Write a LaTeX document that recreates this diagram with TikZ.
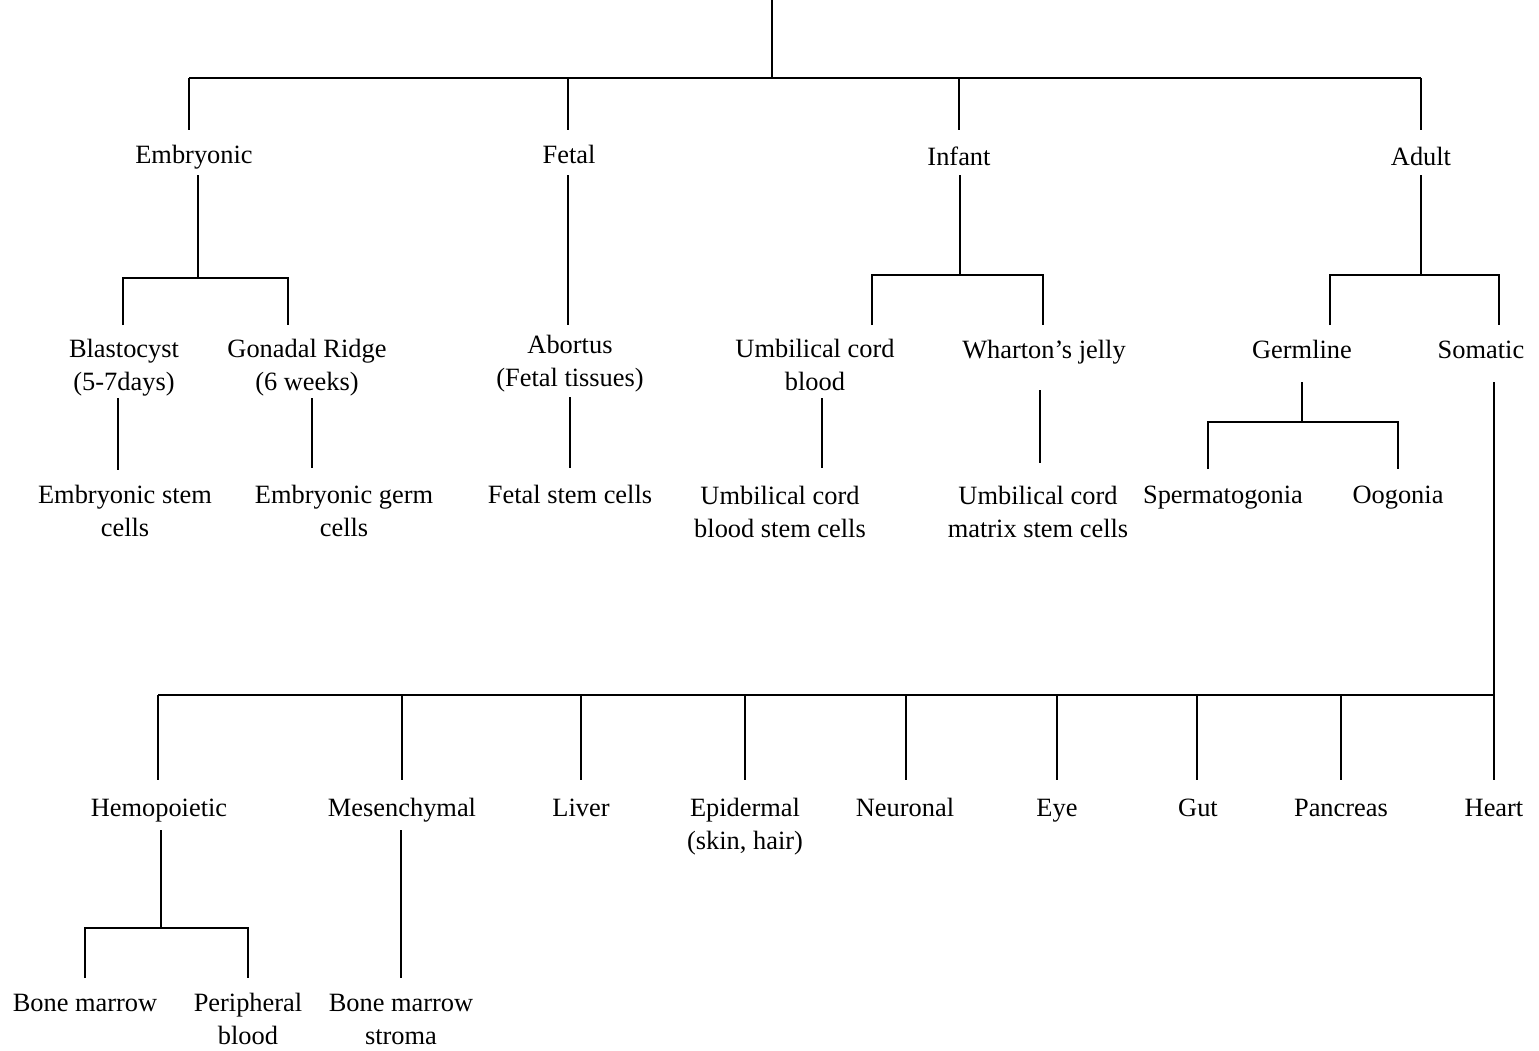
\documentclass[tikz,border=0pt]{standalone}
\usepackage{fontspec}
\setmainfont{Liberation Serif}
\begin{document}
\begin{tikzpicture}[x=0.5pt,y=-0.5pt,
  lbl/.style={anchor=base,align=center,inner sep=0pt,font=\fontsize{13.2}{16.3}\selectfont},
  ln/.style={line width=1pt,black}]
\useasboundingbox[fill=white] (0,0) rectangle (1539,1051);
% ---- labels (base anchor = baseline of the last line)
\node[lbl] (emb) at (194,163) {Embryonic};
\node[lbl] (fet) at (569,163) {Fetal};
\node[lbl] (inf) at (959,165) {Infant};
\node[lbl] (adu) at (1421,165) {Adult};
\node[lbl] (bla) at (124,390) {Blastocyst\\(5-7days)};
\node[lbl] (gon) at (307,390) {Gonadal Ridge\\(6 weeks)};
\node[lbl] (abo) at (570,386) {Abortus\\(Fetal tissues)};
\node[lbl] (ucb) at (815,390) {Umbilical cord\\blood};
\node[lbl] (wha) at (1044,358) {Wharton’s jelly};
\node[lbl] (ger) at (1302,358) {Germline};
\node[lbl] (som) at (1481,358) {Somatic};
\node[lbl] (esc) at (125,536) {Embryonic stem\\cells};
\node[lbl] (egc) at (344,536) {Embryonic germ\\cells};
\node[lbl] (fsc) at (570,503) {Fetal stem cells};
\node[lbl] (ucbs) at (780,537) {Umbilical cord\\blood stem cells};
\node[lbl] (ucms) at (1038,537) {Umbilical cord\\matrix stem cells};
\node[lbl] (spe) at (1223,503) {Spermatogonia};
\node[lbl] (oog) at (1398,503) {Oogonia};
\node[lbl] (hem) at (159,816) {Hemopoietic};
\node[lbl] (mes) at (402,816) {Mesenchymal};
\node[lbl] (liv) at (581,816) {Liver};
\node[lbl] (epi) at (745,849) {Epidermal\\(skin, hair)};
\node[lbl] (neu) at (905,816) {Neuronal};
\node[lbl] (eye) at (1057,816) {Eye};
\node[lbl] (gut) at (1198,816) {Gut};
\node[lbl] (pan) at (1341,816) {Pancreas};
\node[lbl] (hea) at (1494,816) {Heart};
\node[lbl] (bm) at (85,1011) {Bone marrow};
\node[lbl] (pb) at (248,1044) {Peripheral\\blood};
\node[lbl] (bms) at (401,1044) {Bone marrow\\stroma};
% ---- connector end points
\coordinate (root) at (772,0);
\coordinate (rj) at (772,78);
\coordinate (rL) at (189,78);
\coordinate (rR) at (1421,78);
\foreach \n/\x in {a/189,b/568,c/959,d/1421}{
  \coordinate (t\n) at (\x,78);
  \coordinate (b\n) at (\x,130);
}
% Embryonic
\coordinate (e1) at (198,175); \coordinate (e2) at (198,278);
\coordinate (eL) at (123,278); \coordinate (eR) at (288,278);
\coordinate (eLb) at (123,325); \coordinate (eRb) at (288,325);
\coordinate (bl1) at (118,398); \coordinate (bl2) at (118,470);
\coordinate (go1) at (312,398); \coordinate (go2) at (312,468);
% Fetal
\coordinate (f1) at (568,175); \coordinate (f2) at (568,325);
\coordinate (ab1) at (570,397); \coordinate (ab2) at (570,468);
% Infant
\coordinate (i1) at (960,175); \coordinate (i2) at (960,275);
\coordinate (iL) at (872,275); \coordinate (iR) at (1043,275);
\coordinate (iLb) at (872,325); \coordinate (iRb) at (1043,325);
\coordinate (uc1) at (822,398); \coordinate (uc2) at (822,468);
\coordinate (wh1) at (1040,390); \coordinate (wh2) at (1040,463);
% Adult
\coordinate (a1) at (1421,175); \coordinate (a2) at (1421,275);
\coordinate (aL) at (1330,275); \coordinate (aR) at (1499,275);
\coordinate (aLb) at (1330,325); \coordinate (aRb) at (1499,325);
\coordinate (g1) at (1302,382); \coordinate (g2) at (1302,422);
\coordinate (gL) at (1208,422); \coordinate (gR) at (1398,422);
\coordinate (gLb) at (1208,469); \coordinate (gRb) at (1398,469);
\coordinate (s1) at (1494,382); \coordinate (s2) at (1494,695);
\coordinate (sL) at (158,695);
\foreach \n/\x in {1/158,2/402,3/581,4/745,5/906,6/1057,7/1197,8/1341,9/1494}{
  \coordinate (st\n) at (\x,695);
  \coordinate (sb\n) at (\x,780);
}
% Hemopoietic
\coordinate (h1) at (161,830); \coordinate (h2) at (161,928);
\coordinate (hL) at (85,928); \coordinate (hR) at (248,928);
\coordinate (hLb) at (85,978); \coordinate (hRb) at (248,978);
\coordinate (m1) at (401,830); \coordinate (m2) at (401,978);
% ---- connectors
\draw[ln] (root) -- (rj);
\draw[ln] (rL) -- (rR);
\foreach \n in {a,b,c,d}{\draw[ln] (t\n) -- (b\n);}
\draw[ln] (e1) -- (e2);
\draw[ln] (eLb) -- (eL) -- (eR) -- (eRb);
\draw[ln] (bl1) -- (bl2);
\draw[ln] (go1) -- (go2);
\draw[ln] (f1) -- (f2);
\draw[ln] (ab1) -- (ab2);
\draw[ln] (i1) -- (i2);
\draw[ln] (iLb) -- (iL) -- (iR) -- (iRb);
\draw[ln] (uc1) -- (uc2);
\draw[ln] (wh1) -- (wh2);
\draw[ln] (a1) -- (a2);
\draw[ln] (aLb) -- (aL) -- (aR) -- (aRb);
\draw[ln] (g1) -- (g2);
\draw[ln] (gLb) -- (gL) -- (gR) -- (gRb);
\draw[ln] (s1) -- (s2);
\draw[ln] (sL) -- (s2);
\foreach \n in {1,...,9}{\draw[ln] (st\n) -- (sb\n);}
\draw[ln] (h1) -- (h2);
\draw[ln] (hLb) -- (hL) -- (hR) -- (hRb);
\draw[ln] (m1) -- (m2);
\end{tikzpicture}
\end{document}
